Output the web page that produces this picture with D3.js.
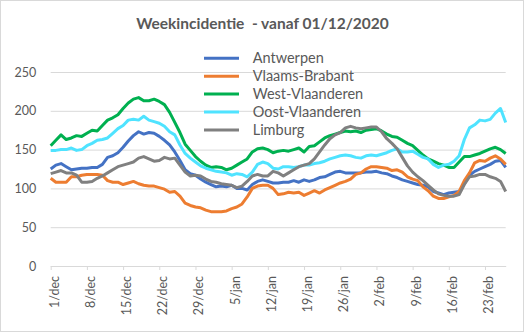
<!DOCTYPE html>
<html><head><meta charset="utf-8">
<script src="https://cdn.jsdelivr.net/npm/d3@7"></script>
<style>
body{margin:0;background:#fff}
svg{display:block}
text{font-family:Lato, "Open Sans", sans-serif; fill:#595959}
</style></head>
<body><svg id="c" width="524" height="332"></svg>
<script>
const title = "Weekincidentie  - vanaf 01/12/2020";
const seriesNames = ["Antwerpen","Vlaams-Brabant","West-Vlaanderen","Oost-Vlaanderen","Limburg"];
const seriesColors = ["#4472C4","#ED7D31","#00B050","#4FE3FF","#808080"];
const dates = d3.timeDay.range(new Date(2020,11,1), new Date(2021,1,28));
const tickLabels = ["1/dec","8/dec","15/dec","22/dec","29/dec","5/jan","12/jan","19/jan","26/jan","2/feb","9/feb","16/feb","23/feb"];
const yTicks = [0,50,100,150,200,250];

const antwerpen = [125,130,132,128,124,125,126,126,127,127, 131,140,142,146,153,161,168,173,170,172, 171,167,162,156,147,136,124,119,117,112, 108,105,102,103,102,104,100,100,98,105, 109,111,109,107,107,108,108,110,108,111, 109,111,114,115,118,121,122,120,120,120, 120,121,121,122,120,119,116,114,111,109, 107,105,104,102,96,94,92,94,95,96, 106,117,122,125,128,131,135,136,127];
const vlaamsBrabant = [113,108,108,108,115,115,117,118,118,118, 117,110,108,108,105,107,109,106,104,103, 103,101,99,95,96,90,81,78,76,75, 72,70,70,70,71,74,76,80,89,100, 103,104,104,100,92,93,95,94,95,91, 94,97,94,98,101,104,107,109,112,118, 120,125,128,128,127,126,123,124,121,115, 112,110,102,97,90,87,87,89,91,96, 110,120,133,136,135,139,142,138,131];
const westVlaanderen = [155,162,169,163,165,168,167,171,175,174, 181,188,191,195,203,210,215,217,213,213, 215,212,208,198,185,172,157,149,141,135, 130,127,128,127,124,126,130,134,138,147, 151,152,150,146,148,149,148,150,152,147, 154,155,160,165,168,170,172,174,173,174, 172,175,176,177,174,170,167,166,162,158, 155,149,143,138,135,132,130,127,127,134, 141,141,143,145,148,151,153,150,145];
const oostVlaanderen = [149,149,150,150,152,149,150,155,158,162, 163,165,171,177,181,188,189,188,193,188, 186,184,180,173,169,156,145,139,134,129, 126,124,122,121,120,117,119,118,115,121, 131,134,132,126,125,128,128,127,128,130, 130,132,133,135,138,140,142,143,142,140, 139,142,143,142,144,146,149,151,147,147, 148,144,140,138,131,127,130,131,135,142, 163,178,182,188,187,189,197,203,185];
const limburg = [119,121,123,120,120,117,108,108,109,113, 116,120,124,128,130,132,134,139,141,138, 135,136,140,138,139,130,121,116,117,116, 112,109,108,106,105,104,101,103,109,116, 118,116,116,122,120,116,120,124,128,130, 132,138,147,156,164,169,172,178,180,178, 177,178,179,179,173,164,158,151,140,129, 121,115,110,104,98,93,91,90,90,92, 105,115,116,118,118,115,113,109,96];
const seriesValues = [antwerpen, vlaamsBrabant, westVlaanderen, oostVlaanderen, limburg];

const svg = d3.select("#c");
svg.append("rect").attr("x",0.5).attr("y",0.5).attr("width",523).attr("height",331)
  .attr("fill","#fff").attr("stroke","#d9d9d9");

const x = d3.scaleTime().domain([dates[0], dates[dates.length-1]]).range([50.7, 505.7]);
const y = d3.scaleLinear().domain([0,250]).range([266,72]);

// y grid + labels
const gy = svg.append("g").attr("transform","translate(50.7,0)")
  .call(d3.axisLeft(y).tickValues(yTicks).tickSize(-(505.7-50.7)).tickPadding(14.5).tickFormat(d=>d));
gy.select(".domain").remove();
gy.selectAll("line").attr("stroke","#d9d9d9");
gy.selectAll("text").attr("font-size",12.5).attr("fill","#595959").style("font-family","Lato");

// x axis
const tickDates = tickLabels.map((_,i)=>dates[i*7]);
const gx = svg.append("g").attr("transform","translate(0,266)")
  .call(d3.axisBottom(x).tickValues(tickDates).tickSize(4).tickSizeOuter(0).tickFormat((d,i)=>tickLabels[i]));
gx.select(".domain").attr("stroke","#d9d9d9");
gx.selectAll("line").attr("stroke","#d9d9d9");
gx.selectAll("text").attr("transform","rotate(-90)").attr("x",-10).attr("y",7.5).attr("dy",0)
  .attr("text-anchor","end").attr("font-size",12.5).attr("fill","#595959").style("font-family","Lato");

// lines
const line = d3.line().x((d,i)=>x(dates[i])).y(d=>y(d));
svg.append("g").selectAll("path").data(seriesValues).join("path")
  .attr("d", line).attr("fill","none").attr("stroke",(d,i)=>seriesColors[i])
  .attr("stroke-width",3).attr("stroke-linejoin","round");

// title
svg.append("text").attr("x",262.5).attr("y",29.3).attr("text-anchor","middle")
  .style("white-space","pre")
  .attr("font-size",15.5).attr("font-weight","bold").text(title);

// legend
const lg = svg.append("g").selectAll("g").data(seriesNames).join("g")
  .attr("transform",(d,i)=>`translate(0,${58.3 + i*17.9})`);
lg.append("line").attr("x1",204).attr("x2",239).attr("stroke",(d,i)=>seriesColors[i]).attr("stroke-width",3);
lg.append("text").attr("x",252.7).attr("y",4.8).attr("font-size",14.5).text(d=>d);
</script></body></html>
